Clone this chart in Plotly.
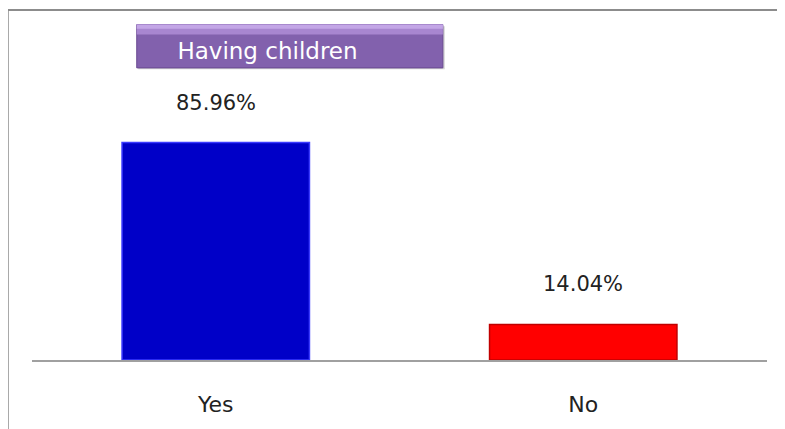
import plotly.graph_objects as go

categories = ["Yes", "No"]
values = [85.96, 14.04]
value_labels = ["85.96%", "14.04%"]
bar_colors = ["#0000c8", "#ff0000"]
edge_colors = ["#3a3aff", "#c00000"]
title_text = "Having children"

FONT = "DejaVu Sans"
dy = 3 / 258

fig = go.Figure()
fig.add_trace(go.Bar(
    x=categories, y=values, width=0.51,
    marker=dict(color=bar_colors, line=dict(color=edge_colors, width=1.5)),
    hoverinfo="skip", showlegend=False,
))

for c, v, t in zip(categories, values, value_labels):
    fig.add_annotation(x=c, y=v, text=t, showarrow=False, yshift=40,
                       font=dict(family=FONT, size=21, color="#222222"))

# outer frame
fig.add_shape(type="rect", xref="paper", yref="paper",
              x0=-0.033, x1=1.2, y0=-0.5, y1=1.372 + dy,
              line=dict(color="#8c8c8c", width=2), fillcolor="rgba(0,0,0,0)", layer="below")
# title box (bevelled look)
fig.add_shape(type="rect", xref="paper", yref="paper",
              x0=0.1445, x1=0.5615, y0=1.138 + dy, y1=1.308 + dy,
              line=dict(width=0), fillcolor="rgba(0,0,0,0.18)", layer="below")
fig.add_shape(type="rect", xref="paper", yref="paper",
              x0=0.1425, x1=0.559, y0=1.143 + dy, y1=1.314 + dy,
              line=dict(color="#6a4a92", width=1), fillcolor="#8261ad", layer="below")
fig.add_shape(type="rect", xref="paper", yref="paper",
              x0=0.1425, x1=0.559, y0=1.275 + dy, y1=1.314 + dy,
              line=dict(width=0), fillcolor="#a886d0", layer="below")
fig.add_shape(type="rect", xref="paper", yref="paper",
              x0=0.1425, x1=0.559, y0=1.298 + dy, y1=1.314 + dy,
              line=dict(width=0), fillcolor="#c3a6e6", layer="below")

W, H = 777, 421
fig.update_layout(
    width=W, height=H,
    margin=dict(l=24, r=18, t=99, b=64),
    paper_bgcolor="white", plot_bgcolor="white",
    title=dict(text=title_text, xref="container", yref="container",
               x=(267.5 - 8) / W, y=1 - (51 - 8) / H, xanchor="center", yanchor="middle",
               font=dict(family=FONT, size=23, color="white")),
    xaxis=dict(showline=True, linecolor="#a0a0a0", linewidth=1.5,
               ticks="outside", ticklen=24, tickcolor="rgba(0,0,0,0)",
               tickfont=dict(family=FONT, size=22, color="#222222"),
               range=[-0.5, 1.5], showgrid=False),
    yaxis=dict(visible=False, range=[0, 100], showgrid=False),
)

fig.write_html("out.html")
